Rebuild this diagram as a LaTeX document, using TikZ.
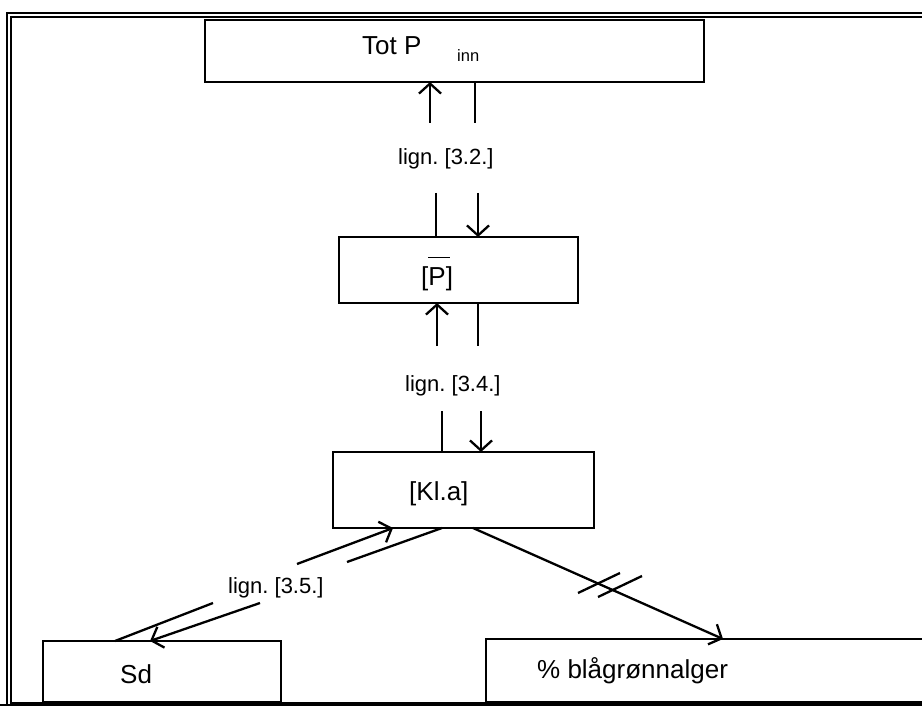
\documentclass[tikz,border=0pt]{standalone}
\usepackage{fontspec}
\setmainfont{Liberation Sans}
\usetikzlibrary{arrows.meta}
\frenchspacing
\begin{document}
\begin{tikzpicture}[x=1pt,y=-1pt,
  box/.style={draw,line width=2.7pt,inner sep=0pt,outer sep=0pt},
  lbl/.style={anchor=base west,inner sep=0pt,font=\fontsize{26}{30}\selectfont},
  eq/.style={anchor=base west,inner sep=0pt,font=\fontsize{22}{26}\selectfont},
  conn/.style={line width=2.3pt},
  arr/.style={conn,-{Straight Barb[length=10pt,width=22pt]}},
  frame/.style={line width=1.8pt}]
\useasboundingbox (0,0) rectangle (922,706);
\clip (0,0) rectangle (922,706);
% frame
\draw[frame] (940,13) -- (7,13) -- (7,710);
\draw[frame] (940,17) -- (11,17) -- (11,703) -- (940,703);
\draw[line width=2.5pt] (0,705.5) -- (940,705.5);
% boxes
\node[box,minimum width=499pt,minimum height=62pt] (top) at (454.5,51) {};
\node[box,minimum width=239pt,minimum height=66pt] (pbox) at (458.5,270) {};
\node[box,minimum width=261pt,minimum height=76pt] (kla) at (463.5,490) {};
\node[box,minimum width=238pt,minimum height=61pt] (sd) at (162,671.5) {};
\node[box,minimum width=449pt,minimum height=63pt] (alg) at (710.5,670.5) {};
% texts
\node[lbl] (totp) at (362,55) {Tot P};
\node[anchor=base west,inner sep=0pt,font=\fontsize{16.5}{20}\selectfont] (inn) at (457,62) {inn};
\node[lbl] (ptxt) at (421,285) {[\makebox[0pt][l]{\rule[27pt]{22pt}{1.2pt}}P]};
\node[lbl] (kltxt) at (409,500) {[Kl.a]};
\node[lbl] (sdtxt) at (120,683) {Sd};
\node[lbl] (algtxt) at (537,678) {\% blågrønnalger};
\node[eq] (l32) at (398,165) {lign. [3.2.]};
\node[eq] (l34) at (405,391) {lign. [3.4.]};
\node[eq] (l35) at (228,593) {lign. [3.5.]};
% vertical connectors
\coordinate (u1) at (430,123); \draw[arr] (u1) -- (u1 |- top.south);
\coordinate (d1) at (475,123); \draw[conn] (top.south -| d1) -- (d1);
\coordinate (u2) at (436,193); \draw[conn] (u2) -- (u2 |- pbox.north);
\coordinate (d2) at (478,193); \draw[arr] (d2) -- (d2 |- pbox.north);
\coordinate (u3) at (437,346); \draw[arr] (u3) -- (u3 |- pbox.south);
\coordinate (d3) at (478,346); \draw[conn] (pbox.south -| d3) -- (d3);
\coordinate (u4) at (442,411); \draw[conn] (u4) -- (u4 |- kla.north);
\coordinate (d4) at (481,411); \draw[arr] (d4) -- (d4 |- kla.north);
% diagonal connectors
\coordinate (s1) at (297,564); \draw[arr] (s1) -- ([xshift=60pt]kla.south west);
\coordinate (s2) at (347,562); \draw[conn] ([xshift=109pt]kla.south west) -- (s2);
\coordinate (s3) at (213,603); \draw[conn] (s3) -- ([xshift=72pt]sd.north west);
\coordinate (s4) at (260,603); \draw[arr] (s4) -- ([xshift=107pt]sd.north west);
\draw[arr] ([xshift=140pt]kla.south west) -- ([xshift=237pt]alg.north west);
% crossing marks
\coordinate (m1a) at (578,593); \coordinate (m1b) at (620,573);
\coordinate (m2a) at (598,597); \coordinate (m2b) at (642,576);
\draw[conn] (m1a) -- (m1b);
\draw[conn] (m2a) -- (m2b);
\end{tikzpicture}
\end{document}
